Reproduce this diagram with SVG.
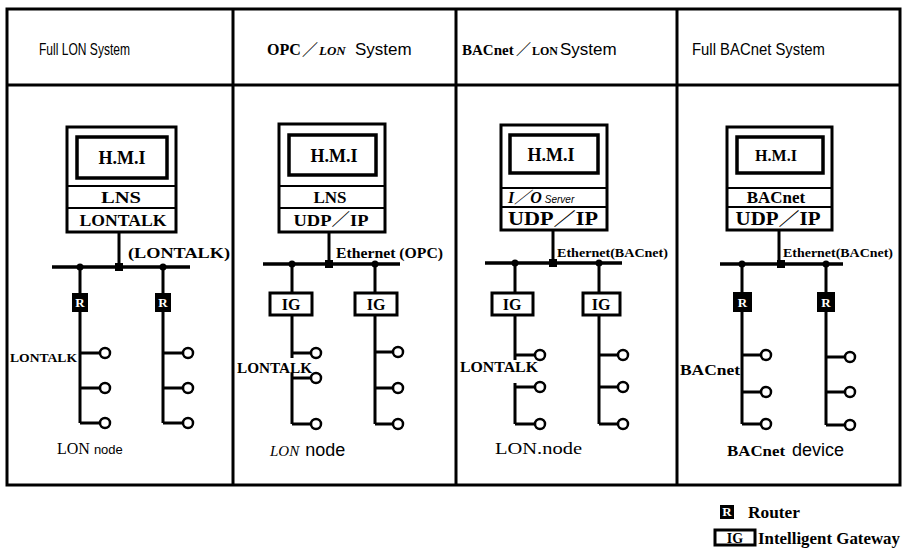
<svg xmlns="http://www.w3.org/2000/svg" width="912" height="560" viewBox="0 0 912 560">
<style>
.frame{fill:none;stroke:#000;stroke-width:3}
.mon{fill:#fff;stroke:#000;stroke-width:3}
.scr{fill:#fff;stroke:#000;stroke-width:3.5}
.sep{stroke:#000;stroke-width:2}
.ln{stroke:#000;stroke-width:3;fill:none}
.bus{stroke:#000;stroke-width:3.5;fill:none}
.nd{fill:#fff;stroke:#000;stroke-width:2.5}
.jn{fill:#000}
.rbox{fill:#000}
.igbox{fill:#fff;stroke:#000;stroke-width:3}
.sans{font-family:"Liberation Sans","Noto Sans CJK SC",sans-serif;fill:#000}
.ser{font-family:"Liberation Serif","Noto Sans CJK SC",serif;font-weight:bold;fill:#000}
.reg{font-weight:normal}
.hdr{font-size:17px}
.mid{text-anchor:middle}
.rt{fill:#fff;font-size:13px}
</style>

<!-- frame -->
<g id="frame">
<rect class="frame" x="7" y="9" width="893" height="476"/>
<line class="frame" x1="7" y1="85" x2="900" y2="85"/>
<line class="frame" x1="233" y1="9" x2="233" y2="485"/>
<line class="frame" x1="456" y1="9" x2="456" y2="485"/>
<line class="frame" x1="677" y1="9" x2="677" y2="485"/>
</g>

<!-- headers -->
<g id="headers">
<text class="sans hdr" x="39" y="55" textLength="91" lengthAdjust="spacingAndGlyphs">Full LON System</text>
<text y="55"><tspan class="ser" x="267" font-size="16">OPC</tspan><tspan class="ser" x="302" font-size="16">／</tspan><tspan class="ser" x="319" font-size="13" font-style="italic">LON</tspan><tspan class="sans" x="355" font-size="17">System</tspan></text>
<text y="55"><tspan class="ser" x="462" font-size="15">BACnet</tspan><tspan class="ser" x="516" font-size="15">／</tspan><tspan class="ser" x="532" font-size="12">LON</tspan><tspan class="sans" x="560" font-size="17">System</tspan></text>
<text class="sans hdr" x="692" y="55" textLength="133" lengthAdjust="spacingAndGlyphs">Full BACnet System</text>
</g>

<!-- connectors -->
<g id="connectors">
<!-- panel 1 -->
<line class="ln" x1="119" y1="232" x2="119" y2="267"/>
<line class="bus" x1="52" y1="267" x2="190" y2="267"/>
<path class="ln" d="M80 267V423M80 353H100M80 388H100M80 423H100"/>
<path class="ln" d="M163 267V423M163 353H183M163 388H183M163 423H183"/>
<!-- panel 2 -->
<line class="ln" x1="329" y1="232" x2="329" y2="264"/>
<line class="bus" x1="263" y1="264" x2="400" y2="264"/>
<path class="ln" d="M292 264V358M292 373V424M292 353H311M292 378H311M292 424H311"/>
<path class="ln" d="M375 264V424M375 352H393M375 388H393M375 424H393"/>
<!-- panel 3 -->
<line class="ln" x1="553" y1="230" x2="553" y2="263"/>
<line class="bus" x1="485" y1="263" x2="622" y2="263"/>
<path class="ln" d="M515 263V360M515 383V424M515 355H535M515 387H535M515 424H535"/>
<path class="ln" d="M599 263V424M599 355H618M599 387H618M599 424H618"/>
<!-- panel 4 -->
<line class="ln" x1="779" y1="230" x2="779" y2="264"/>
<line class="bus" x1="720" y1="264" x2="843" y2="264"/>
<path class="ln" d="M742 264V424M742 355H761M742 392H761M742 424H761"/>
<path class="ln" d="M826 264V425M826 357H845M826 392H845M826 425H845"/>
<!-- junctions -->
<circle class="jn" cx="80" cy="267" r="3.5"/><rect class="jn" x="115" y="263" width="8" height="8"/><circle class="jn" cx="163" cy="267" r="3.5"/>
<circle class="jn" cx="292" cy="264" r="3.5"/><rect class="jn" x="325" y="260" width="8" height="8"/><circle class="jn" cx="375" cy="264" r="3.5"/>
<circle class="jn" cx="515" cy="263" r="3.5"/><rect class="jn" x="549" y="259" width="8" height="8"/><circle class="jn" cx="599" cy="263" r="3.5"/>
<circle class="jn" cx="742" cy="264" r="3.5"/><rect class="jn" x="777" y="260" width="8" height="8"/><circle class="jn" cx="826" cy="264" r="3.5"/>
</g>

<!-- connector labels -->
<g id="labels">
<text class="ser" x="128" y="258" font-size="14" textLength="102" lengthAdjust="spacingAndGlyphs">(LONTALK)</text>
<text class="ser" x="336" y="258" font-size="14" textLength="107" lengthAdjust="spacingAndGlyphs">Ethernet (OPC)</text>
<text class="ser" x="557" y="257" font-size="12" textLength="111" lengthAdjust="spacingAndGlyphs">Ethernet(BACnet)</text>
<text class="ser" x="783" y="257" font-size="12" textLength="110" lengthAdjust="spacingAndGlyphs">Ethernet(BACnet)</text>
<text class="ser" x="10" y="362" font-size="13" textLength="67" lengthAdjust="spacingAndGlyphs">LONTALK</text>
<text class="ser" x="237" y="373" font-size="15" textLength="75" lengthAdjust="spacingAndGlyphs">LONTALK</text>
<text class="ser" x="460" y="372" font-size="15" textLength="78" lengthAdjust="spacingAndGlyphs">LONTALK</text>
<text class="ser" x="680" y="375" font-size="14" textLength="60" lengthAdjust="spacingAndGlyphs">BACnet</text>
</g>

<!-- panel 1 HMI -->
<g id="p1-hmi">
<rect class="mon" x="67" y="127" width="109" height="105"/>
<rect class="scr" x="77" y="137" width="90" height="41"/>
<line class="sep" x1="67" y1="186" x2="176" y2="186"/>
<line class="sep" x1="67" y1="208" x2="176" y2="208"/>
<text class="ser mid" x="122" y="164" font-size="18">H.M.I</text>
<text class="ser mid" x="121" y="203" font-size="17" textLength="40" lengthAdjust="spacingAndGlyphs">LNS</text>
<text class="ser mid" x="123" y="226" font-size="16" textLength="87" lengthAdjust="spacingAndGlyphs">LONTALK</text>
</g>
<g id="p1-r1"><rect class="rbox" x="72" y="293" width="16" height="19"/><text class="ser mid rt" x="80" y="307">R</text></g>
<g id="p1-r2"><rect class="rbox" x="155" y="293" width="16" height="19"/><text class="ser mid rt" x="163" y="307">R</text></g>
<g id="p1-nodes">
<circle class="nd" cx="105" cy="353" r="5"/><circle class="nd" cx="105" cy="388" r="5"/><circle class="nd" cx="105" cy="423" r="5"/>
<circle class="nd" cx="188" cy="353" r="5"/><circle class="nd" cx="188" cy="388" r="5"/><circle class="nd" cx="188" cy="423" r="5"/>
<text x="57" y="454"><tspan class="ser reg" font-size="16">LON</tspan><tspan class="sans" font-size="13" dx="4">node</tspan></text>
</g>

<!-- panel 2 -->
<g id="p2-hmi">
<rect class="mon" x="279" y="124" width="106" height="108"/>
<rect class="scr" x="289" y="135" width="87" height="40"/>
<line class="sep" x1="279" y1="186" x2="385" y2="186"/>
<line class="sep" x1="279" y1="208" x2="385" y2="208"/>
<text class="ser mid" x="334" y="162" font-size="18">H.M.I</text>
<text class="ser mid" x="330" y="203" font-size="17">LNS</text>
<text class="ser mid" x="331" y="226" font-size="17" textLength="75" lengthAdjust="spacingAndGlyphs">UDP／IP</text>
</g>
<g id="p2-ig1"><rect class="igbox" x="270" y="293" width="42" height="22"/><text class="ser mid" x="291" y="310" font-size="16">IG</text></g>
<g id="p2-ig2"><rect class="igbox" x="355" y="293" width="42" height="22"/><text class="ser mid" x="376" y="310" font-size="16">IG</text></g>
<g id="p2-nodes">
<circle class="nd" cx="316" cy="353" r="5"/><circle class="nd" cx="316" cy="378" r="5"/><circle class="nd" cx="316" cy="424" r="5"/>
<circle class="nd" cx="398" cy="352" r="5"/><circle class="nd" cx="398" cy="388" r="5"/><circle class="nd" cx="398" cy="424" r="5"/>
<text x="270" y="456"><tspan class="ser reg" font-size="15" font-style="italic">LON</tspan><tspan class="sans" font-size="18" dx="6">node</tspan></text>
</g>

<!-- panel 3 -->
<g id="p3-hmi">
<rect class="mon" x="501" y="125" width="106" height="105"/>
<rect class="scr" x="510" y="135" width="88" height="38"/>
<line class="sep" x1="501" y1="188" x2="607" y2="188"/>
<line class="sep" x1="501" y1="207" x2="607" y2="207"/>
<text class="ser mid" x="551" y="161" font-size="18">H.M.I</text>
<text x="508" y="203"><tspan class="ser" font-size="16" font-style="italic">I／O</tspan><tspan class="sans" font-size="10" font-style="italic" dx="3">Server</tspan></text>
<text class="ser mid" x="553" y="225" font-size="18" textLength="90" lengthAdjust="spacingAndGlyphs">UDP／IP</text>
</g>
<g id="p3-ig1"><rect class="igbox" x="492" y="293" width="41" height="22"/><text class="ser mid" x="512" y="310" font-size="16">IG</text></g>
<g id="p3-ig2"><rect class="igbox" x="583" y="293" width="37" height="22"/><text class="ser mid" x="601" y="310" font-size="16">IG</text></g>
<g id="p3-nodes">
<circle class="nd" cx="540" cy="355" r="5"/><circle class="nd" cx="540" cy="387" r="5"/><circle class="nd" cx="540" cy="424" r="5"/>
<circle class="nd" cx="623" cy="355" r="5"/><circle class="nd" cx="623" cy="387" r="5"/><circle class="nd" cx="623" cy="424" r="5"/>
<text class="ser reg" x="495" y="454" font-size="17" textLength="87" lengthAdjust="spacingAndGlyphs">LON.node</text>
</g>

<!-- panel 4 -->
<g id="p4-hmi">
<rect class="mon" x="727" y="127" width="105" height="103"/>
<rect class="scr" x="737" y="137" width="86" height="36"/>
<line class="sep" x1="727" y1="188" x2="832" y2="188"/>
<line class="sep" x1="727" y1="207" x2="832" y2="207"/>
<text class="ser mid" x="776" y="161" font-size="16">H.M.I</text>
<text class="ser mid" x="776" y="203" font-size="17">BACnet</text>
<text class="ser mid" x="778" y="225" font-size="18" textLength="85" lengthAdjust="spacingAndGlyphs">UDP／IP</text>
</g>
<g id="p4-r1"><rect class="rbox" x="733" y="292" width="19" height="20"/><text class="ser mid rt" x="742.5" y="307">R</text></g>
<g id="p4-r2"><rect class="rbox" x="817" y="292" width="18" height="20"/><text class="ser mid rt" x="826" y="307">R</text></g>
<g id="p4-nodes">
<circle class="nd" cx="766" cy="355" r="5"/><circle class="nd" cx="766" cy="392" r="5"/><circle class="nd" cx="766" cy="424" r="5"/>
<circle class="nd" cx="850" cy="357" r="5"/><circle class="nd" cx="850" cy="392" r="5"/><circle class="nd" cx="850" cy="425" r="5"/>
<text x="727" y="456"><tspan class="ser" font-size="15" textLength="58" lengthAdjust="spacingAndGlyphs">BACnet</tspan><tspan class="sans" font-size="18" dx="7">device</tspan></text>
</g>

<!-- legend -->
<g id="legend">
<rect class="rbox" x="720" y="505" width="14" height="14"/><text class="ser mid rt" x="727" y="516" font-size="12">R</text>
<text class="ser" x="748" y="518" font-size="17" textLength="52" lengthAdjust="spacingAndGlyphs">Router</text>
<rect class="igbox" x="715" y="530" width="40" height="15" stroke-width="2.5"/><text class="ser mid" x="735" y="543" font-size="14">IG</text>
<text class="ser" x="758" y="544" font-size="17" textLength="142" lengthAdjust="spacingAndGlyphs">Intelligent Gateway</text>
</g>
</svg>
